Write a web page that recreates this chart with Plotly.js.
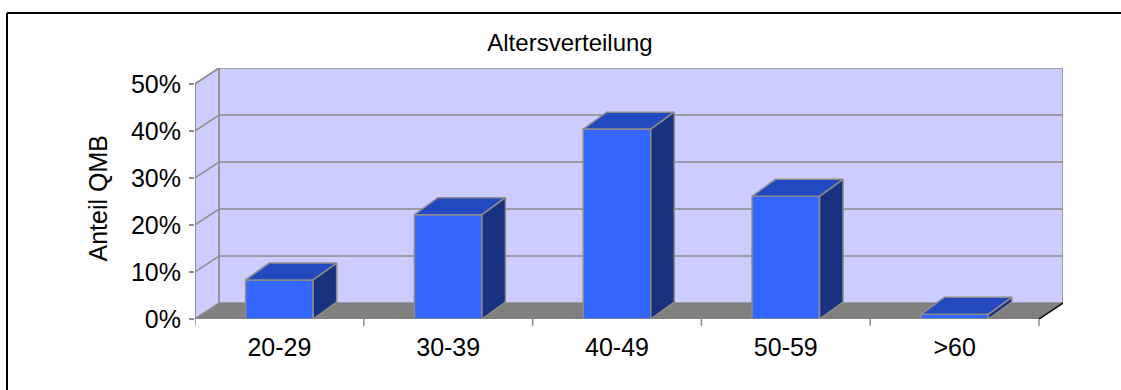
<!DOCTYPE html>
<html>
<head>
<meta charset="utf-8">
<script src="https://cdn.plot.ly/plotly-3.0.1.min.js"></script>
<style>html,body{margin:0;padding:0;background:#fff;overflow:hidden;}#chart{width:1121px;height:390px;}</style>
</head>
<body>
<div id="chart"></div>
<script>
// ---- data ----
const categories = ["20-29", "30-39", "40-49", "50-59", ">60"];
const shares = [8.3, 22.2, 40.4, 26.1, 1.0];          // Anteil QMB in %
const yTickVals = [0, 10, 20, 30, 40, 50];
const yTickText = ["0%", "10%", "20%", "30%", "40%", "50%"];
const chartTitle = "Altersverteilung";
const yTitle = "Anteil QMB";

// ---- geometry of the pseudo-3D box (in axis units) ----
const W = 1121, H = 390;
const M = {l: 195, r: 58, t: 68, b: 71};
const plotW = W - M.l - M.r, plotH = H - M.t - M.b;
const nCat = categories.length;
const pxPerCat = 168.8, pxPerPct = 4.72;
const wallDx = 24 / pxPerCat, wallDy = 16 / pxPerPct;   // depth of the walls
const barDx = 23.5 / pxPerCat, barDy = 17 / pxPerPct;   // depth of the bars
const halfBar = 0.2;
const yMax = 50;
const xLo = -0.5, xHi = nCat - 0.5;

const grid = '#8c8c8c';
const front = '#3366ff', topC = '#2349c0', sideC = '#19327f', edge = '#8c8c8c';

const shapes = [];
// back wall
shapes.push({type:'rect', layer:'below', x0:xLo+wallDx, x1:xHi+wallDx, y0:wallDy, y1:yMax+wallDy,
  fillcolor:'#ccccff', line:{color:grid, width:1.5}});
// left wall
shapes.push({type:'path', layer:'below',
  path:`M${xLo},0 L${xLo+wallDx},${wallDy} L${xLo+wallDx},${yMax+wallDy} L${xLo},${yMax} Z`,
  fillcolor:'#ccccff', line:{color:grid, width:1.5}});
// floor
shapes.push({type:'path', layer:'below',
  path:`M${xLo},0 L${xHi},0 L${xHi+wallDx},${wallDy} L${xLo+wallDx},${wallDy} Z`,
  fillcolor:'#808080', line:{width:0}});
// floor right edge (dark)
shapes.push({type:'line', layer:'below', x0:xHi, y0:0, x1:xHi+wallDx, y1:wallDy, line:{color:'#000', width:1.5}});
// grid lines on back wall and left wall
yTickVals.forEach(v => {
  if (v > 0 && v < yMax) {
    shapes.push({type:'line', layer:'below', x0:xLo+wallDx, x1:xHi+wallDx, y0:v+wallDy, y1:v+wallDy,
      line:{color:grid, width:1.5}});
  }
  shapes.push({type:'line', layer:'below', x0:xLo, x1:xLo+wallDx, y0:v, y1:v+wallDy,
    line:{color:grid, width:1.5}});
});
// front value axis
shapes.push({type:'line', layer:'below', x0:xLo, x1:xLo, y0:0, y1:yMax, line:{color:grid, width:1.5}});
// category tick marks at boundaries
for (let i = 0; i <= nCat; i++) {
  shapes.push({type:'line', xref:'x', yref:'paper', x0:xLo+i, x1:xLo+i, y0:0, y1:-7/plotH,
    line:{color:grid, width:1.5}});
}
// outer frame (top and left edges visible; right/bottom fall outside the picture)
const fx = (7 - M.l) / plotW, fy = (H - M.b - 13) / plotH;
shapes.push({type:'line', xref:'paper', yref:'paper', x0:fx, x1:(W + 5 - M.l) / plotW, y0:fy, y1:fy,
  line:{color:'#000', width:2}});
shapes.push({type:'line', xref:'paper', yref:'paper', x0:fx, x1:fx, y0:fy, y1:(M.b - H - 10) / plotH,
  line:{color:'#000', width:2}});

// ---- bar traces (front, top, side faces built from values) ----
const traces = [];
categories.forEach((c, i) => {
  const v = shares[i];
  const xl = i - halfBar, xr = i + halfBar;
  traces.push({type:'scatter', mode:'lines', fill:'toself', fillcolor:front, line:{color:edge, width:1.5},
    x:[xl, xr, xr, xl, xl], y:[0, 0, v, v, 0], hoverinfo:'skip', showlegend:false});
  traces.push({type:'scatter', mode:'lines', fill:'toself', fillcolor:topC, line:{color:edge, width:1.5},
    x:[xl, xr, xr+barDx, xl+barDx, xl], y:[v, v, v+barDy, v+barDy, v], hoverinfo:'skip', showlegend:false});
  traces.push({type:'scatter', mode:'lines', fill:'toself', fillcolor:sideC, line:{color:edge, width:1.5},
    x:[xr, xr+barDx, xr+barDx, xr, xr], y:[0, barDy, v+barDy, v, 0], hoverinfo:'skip', showlegend:false});
});

const font = {family:'"Liberation Sans", Arial, sans-serif', color:'#000'};
const layout = {
  width: W, height: H,
  margin: M,
  paper_bgcolor:'#fff', plot_bgcolor:'#fff',
  showlegend:false,
  title:{text:chartTitle, font:Object.assign({size:24}, font), x:570/W, xanchor:'center', y:1-43/H, yanchor:'middle'},
  xaxis:{range:[xLo, xHi+wallDx], tickvals:categories.map((c,i)=>i), ticktext:categories,
    showgrid:false, zeroline:false, showline:false, ticks:'', ticklabelstandoff:11,
    tickfont:Object.assign({size:25}, font), fixedrange:true},
  yaxis:{range:[0, yMax+wallDy], tickvals:yTickVals, ticktext:yTickText,
    showgrid:false, zeroline:false, showline:false, ticks:'outside', ticklen:5, tickwidth:1.5, tickcolor:grid,
    ticklabelstandoff:3, tickfont:Object.assign({size:25}, font), fixedrange:true},
  annotations:[{text:yTitle, xref:'paper', yref:'paper', x:(97.5-M.l)/plotW, y:(H-M.b-199)/plotH,
    textangle:-90, showarrow:false, font:Object.assign({size:25}, font), xanchor:'center', yanchor:'middle'}],
  shapes: shapes
};
Plotly.newPlot('chart', traces, layout, {staticPlot:true, displayModeBar:false});
</script>
</body>
</html>
